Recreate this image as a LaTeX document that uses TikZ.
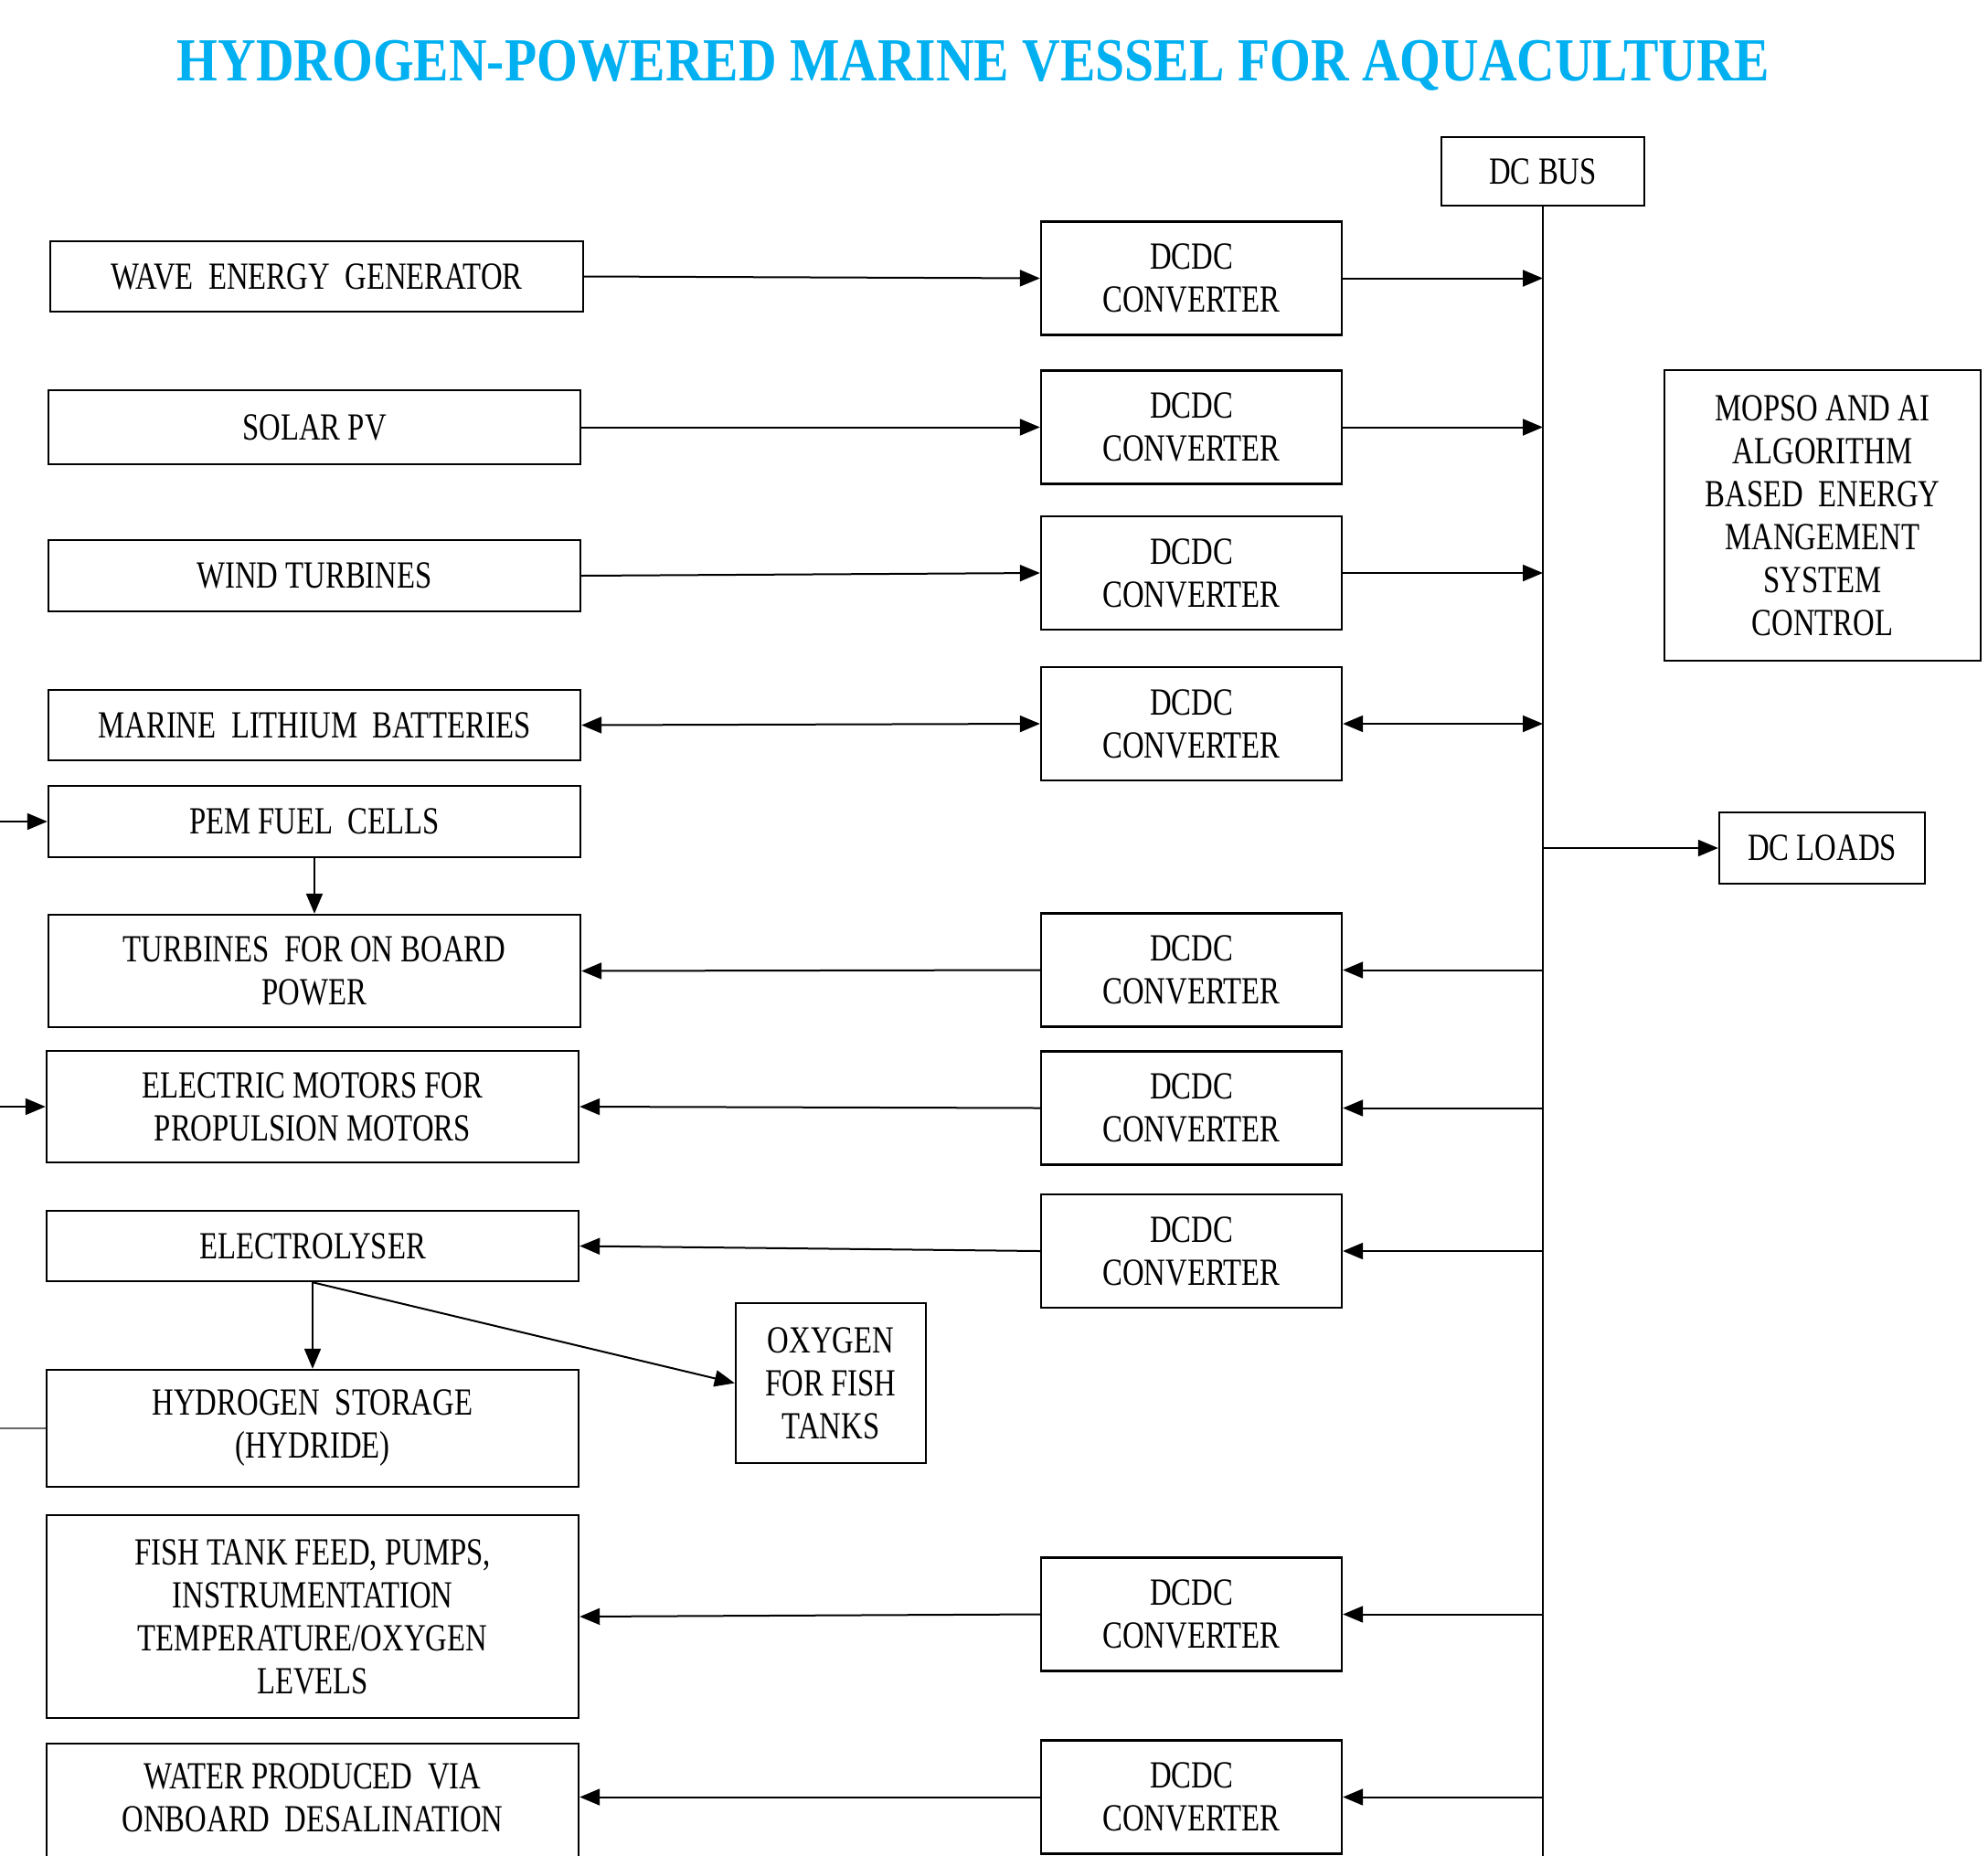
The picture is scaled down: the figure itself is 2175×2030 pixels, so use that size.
\documentclass[tikz,border=0pt]{standalone}
\usepackage{fontspec}
\usetikzlibrary{arrows.meta}
\newfontfamily\bodyfont[FakeStretch=0.78]{Liberation Serif}
\newfontfamily\titlefont[FakeStretch=0.86]{Liberation Serif}
\definecolor{titleblue}{RGB}{0,176,240}
\tikzset{
  box/.style={draw, line width=2.4pt, inner sep=0pt, align=center,
    font=\bodyfont\fontsize{42}{47}\selectfont},
  conv/.style={box, minimum width=329pt, minimum height=124pt},
  lbox/.style={box, minimum width=582pt},
  tip/.style={},
  arr/.style={-{Triangle[length=22pt,width=18pt]}, line width=2pt},
  darr/.style={{Triangle[length=22pt,width=18pt]}-{Triangle[length=22pt,width=18pt]}, line width=2pt},
  plain/.style={line width=2pt}
}
\begin{document}
\begin{tikzpicture}[x=1pt,y=-1pt]
\clip (0,0) rectangle (2175,2030);
\fill[white] (0,0) rectangle (2175,2030);

% title
\node[anchor=base, text=titleblue, inner sep=0pt,
  font=\titlefont\bfseries\fontsize{67}{70}\selectfont] (title) at (1065,88)
  {HYDROGEN-POWERED MARINE VESSEL FOR AQUACULTURE};

% left column
\node[lbox, minimum width=583pt, minimum height=77pt] (wave) at (346.5,302.5) {WAVE\ \ ENERGY\ \ GENERATOR};
\node[lbox, minimum height=81pt] (solar) at (344,467.5) {SOLAR PV};
\node[lbox, minimum height=78pt] (wind) at (344,630) {WIND TURBINES};
\node[lbox, minimum height=77pt] (batt) at (344,793.5) {MARINE\ \ LITHIUM\ \ BATTERIES};
\node[lbox, minimum height=78pt] (pem) at (344,899) {PEM FUEL\ \ CELLS};
\node[lbox, minimum height=123pt] (turb) at (344,1062.5) {TURBINES\ \ FOR ON BOARD\\POWER};
\node[lbox, minimum height=122pt] (motor) at (342,1211) {ELECTRIC MOTORS FOR\\PROPULSION MOTORS};
\node[lbox, minimum height=77pt] (elec) at (342,1363.5) {ELECTROLYSER};
\node[lbox, minimum height=128pt] (h2) at (342,1563) {HYDROGEN\ \ STORAGE\\(HYDRIDE)};
\node[lbox, minimum height=222pt] (fish) at (342,1769) {FISH TANK FEED, PUMPS,\\INSTRUMENTATION\\TEMPERATURE/OXYGEN\\LEVELS};
\node[lbox, minimum height=150pt] (water) at (342,1983) {};
\node[box, draw=none, anchor=north] (watertxt) at (water.north |- 0,1928) {WATER PRODUCED\ \ VIA\\ONBOARD\ \ DESALINATION};

% oxygen
\node[box, minimum width=208pt, minimum height=175pt] (oxy) at (909,1513.5) {OXYGEN\\FOR FISH\\TANKS};

% converters
\node[conv] (c1) at (1303.5,304.5) {DCDC\\CONVERTER};
\node[conv] (c2) at (1303.5,467.5) {DCDC\\CONVERTER};
\node[conv] (c3) at (1303.5,627) {DCDC\\CONVERTER};
\node[conv] (c4) at (1303.5,792) {DCDC\\CONVERTER};
\node[conv] (c6) at (1303.5,1061.5) {DCDC\\CONVERTER};
\node[conv] (c7) at (1303.5,1212.5) {DCDC\\CONVERTER};
\node[conv] (c8) at (1303.5,1369) {DCDC\\CONVERTER};
\node[conv] (c10) at (1303.5,1766.5) {DCDC\\CONVERTER};
\node[conv] (c11) at (1303.5,1966.5) {DCDC\\CONVERTER};

% bus and right side
\node[box, minimum width=222pt, minimum height=75pt] (bus) at (1688,187.5) {DC BUS};
\coordinate (busbot) at (1688,2040);
\node[box, minimum width=346pt, minimum height=318pt] (ems) at (1994,564)
  {MOPSO AND AI\\ALGORITHM\\BASED\ \ ENERGY\\MANGEMENT\\SYSTEM\\CONTROL};
\node[box, minimum width=225pt, minimum height=78pt] (loads) at (1993.5,928) {DC LOADS};

\draw[plain] (bus.south) -- (busbot);

% sources to converters
\draw[arr] (wave.east) -- (c1.west);
\draw[arr] (solar.east) -- (c2.west);
\draw[arr] (wind.east) -- (c3.west);
\draw[darr] (batt.east) -- (c4.west);
\draw[arr] (c6.west) -- (turb.east);
\draw[arr] (c7.west) -- (motor.east);
\draw[arr] (c8.west) -- (elec.east);
\draw[arr] (c10.west) -- (fish.east);
\draw[arr] (c11.west) -- (c11.west -| water.east);

% converters to/from bus
\draw[arr] (c1.east) -- (c1.east -| bus.south);
\draw[arr] (c2.east) -- (c2.east -| bus.south);
\draw[arr] (c3.east) -- (c3.east -| bus.south);
\draw[darr] (c4.east) -- (c4.east -| bus.south);
\draw[arr] (c6.east -| bus.south) -- (c6.east);
\draw[arr] (c7.east -| bus.south) -- (c7.east);
\draw[arr] (c8.east -| bus.south) -- (c8.east);
\draw[arr] (c10.east -| bus.south) -- (c10.east);
\draw[arr] (c11.east -| bus.south) -- (c11.east);
\draw[arr] (loads.west -| bus.south) -- (loads.west);

% internal links
\draw[arr] (pem.south) -- (turb.north);
\draw[arr] (elec.south) -- (h2.north);
\draw[arr] (elec.south) -- (oxy.west);

% incoming from left edge
\coordinate (pemsrc) at (0,899);
\coordinate (motsrc) at (0,1211);
\coordinate (h2src) at (0,1563);
\draw[arr] (pemsrc) -- (pemsrc -| pem.west);
\draw[arr] (motsrc) -- (motsrc -| motor.west);
\draw[plain, draw=black!60] (h2src) -- (h2src -| h2.west);
\end{tikzpicture}
\end{document}
